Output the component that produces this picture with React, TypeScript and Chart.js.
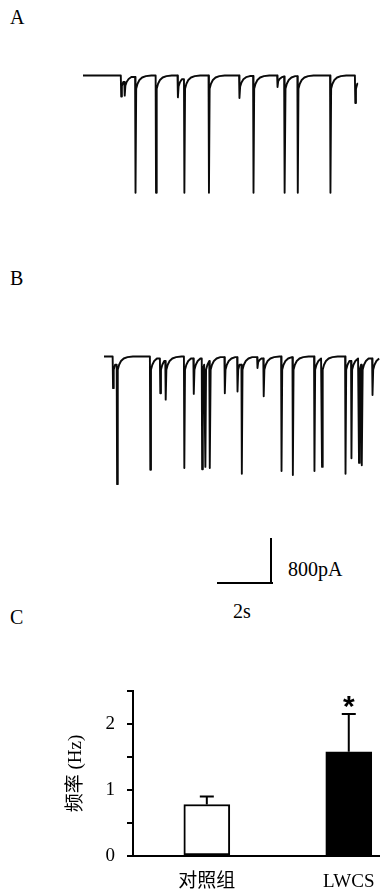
import React, { useEffect, useRef } from "react";
import { Chart, registerables } from "chart.js";

Chart.register(...registerables);

const SERIF = '"Liberation Serif", "Times New Roman", serif';
const SERIF_CJK = '"Liberation Serif", "Noto Sans CJK SC", serif';

// Scale bar calibration: 2 s and 800 pA
const SCALE_SECONDS = 2;
const SCALE_PA = 800;
const PX_PER_S = 27;
const PX_PER_PA = 46 / 800;

// Trace A: event onset times (s) and peak amplitudes (pA, inward)
const TRACE_A_TIMES = [1.4, 1.53, 1.93, 2.69, 3.5, 3.74, 4.65, 5.78, 6.3, 7.19, 7.46, 7.94, 9.15, 10.07];
const TRACE_A_AMPS = [365, 350, 2040, 2040, 380, 2040, 2040, 390, 2040, 200, 2040, 2040, 2040, 480];
const TRACE_A_END = 10.19;

// Trace B
const TRACE_B_TIMES = [0.32, 0.47, 1.7, 2.07, 2.27, 2.96, 3.31, 3.62, 3.74, 3.91, 4.46, 4.93, 5.09, 5.67, 5.9, 6.56, 6.98, 7.78, 8.06, 8.93, 9.15, 9.43, 9.54, 9.93];
const TRACE_B_AMPS = [550, 2220, 1970, 640, 750, 1940, 650, 1960, 1920, 1940, 640, 610, 2040, 200, 690, 1990, 2060, 1990, 1920, 2040, 1770, 1850, 1890, 670];
const TRACE_B_END = 10.22;

// Event waveform template
const PEAK_DT = 0.015;
const TAIL_PA = 230;
const DECAY_DT = [0.04, 0.09, 0.16, 0.26, 0.4, 0.6];
const DECAY_FRAC = [1, 0.62, 0.34, 0.15, 0.05, 0];

// Panel C: frequency (Hz)
const BAR_CATEGORIES = ["对照组", "LWCS"];
const BAR_MEANS = [0.78, 1.58];
const BAR_ERRORS = [0.12, 0.57];
const BAR_SIGNIF = [false, true];
const BAR_FILLS = ["#ffffff", "#000000"];
const Y_AXIS_TITLE = "频率 (Hz)";
const Y_MAX = 2.5;
const Y_STEP = 0.5;

function buildTrace(times: number[], amps: number[], end: number) {
  const pts: { x: number; y: number }[] = [{ x: 0, y: 0 }];
  let level = 0;
  for (let i = 0; i < times.length; i++) {
    const t = times[i];
    const next = i + 1 < times.length ? times[i + 1] : end;
    pts.push({ x: t, y: level });
    pts.push({ x: t + PEAK_DT, y: -amps[i] });
    const tail = Math.min(amps[i] * 0.5, TAIL_PA);
    for (let k = 0; k < DECAY_DT.length; k++) {
      if (t + DECAY_DT[k] < next) {
        level = -tail * DECAY_FRAC[k];
        pts.push({ x: t + DECAY_DT[k], y: level });
      }
    }
  }
  pts.push({ x: end, y: level });
  return pts;
}

type TraceProps = {
  times: number[];
  amps: number[];
  end: number;
  left: number;
  top: number;
  width: number;
  height: number;
  originX: number;
  baselineY: number;
};

function Trace(p: TraceProps) {
  const ref = useRef<HTMLCanvasElement | null>(null);
  useEffect(() => {
    if (!ref.current) return;
    const xmin = -p.originX / PX_PER_S;
    const xmax = xmin + p.width / PX_PER_S;
    const ymax = p.baselineY / PX_PER_PA;
    const ymin = ymax - p.height / PX_PER_PA;
    const chart = new Chart(ref.current, {
      type: "line",
      data: {
        datasets: [
          {
            data: buildTrace(p.times, p.amps, p.end),
            borderColor: "#0a0a0a",
            borderWidth: 1.9,
            pointRadius: 0,
            tension: 0,
            fill: false,
            borderJoinStyle: "round",
            clip: 4,
          } as any,
        ],
      },
      options: {
        animation: false,
        responsive: false,
        maintainAspectRatio: false,
        events: [],
        layout: { padding: 0 },
        plugins: { legend: { display: false }, tooltip: { enabled: false }, title: { display: false } },
        scales: {
          x: { type: "linear", display: false, min: xmin, max: xmax },
          y: { type: "linear", display: false, min: ymin, max: ymax },
        },
      },
    });
    return () => chart.destroy();
  }, []);
  return (
    <canvas
      ref={ref}
      width={p.width}
      height={p.height}
      style={{ position: "absolute", left: p.left, top: p.top, width: p.width, height: p.height }}
    />
  );
}

function BarPanel() {
  const ref = useRef<HTMLCanvasElement | null>(null);
  useEffect(() => {
    if (!ref.current) return;
    const errPlugin = {
      id: "errbars",
      afterDatasetsDraw(chart: any) {
        const ctx = chart.ctx;
        const xs = chart.scales.x;
        const ys = chart.scales.y;
        ctx.save();
        ctx.strokeStyle = "#000";
        ctx.fillStyle = "#000";
        ctx.lineWidth = 2;
        BAR_MEANS.forEach((m, i) => {
          const x = xs.getPixelForValue(i + 1);
          const yb = ys.getPixelForValue(m);
          const yt = ys.getPixelForValue(m + BAR_ERRORS[i]);
          ctx.beginPath();
          ctx.moveTo(x, yb);
          ctx.lineTo(x, yt);
          ctx.moveTo(x - 7, yt);
          ctx.lineTo(x + 7, yt);
          ctx.stroke();
          if (BAR_SIGNIF[i]) {
            ctx.font = 'bold 30px "Liberation Sans", Arial, sans-serif';
            ctx.textAlign = "center";
            ctx.textBaseline = "alphabetic";
            const mt = ctx.measureText("*");
            const asc = mt.actualBoundingBoxAscent;
            const desc = mt.actualBoundingBoxDescent;
            const cy = yt - 12;
            ctx.fillText("*", x, cy + (asc - desc) / 2);
          }
        });
        ctx.restore();
      },
    };
    const chart = new Chart(ref.current, {
      type: "bar",
      data: {
        datasets: [
          {
            data: BAR_MEANS.map((m, i) => ({ x: i + 1, y: m })),
            backgroundColor: BAR_FILLS,
            borderColor: "#000000",
            borderWidth: 2,
            barThickness: 46,
            borderSkipped: false,
          } as any,
        ],
      },
      options: {
        animation: false,
        responsive: false,
        maintainAspectRatio: false,
        events: [],
        layout: { padding: { top: 11, left: 0, right: 0, bottom: 0 } },
        plugins: { legend: { display: false }, tooltip: { enabled: false } },
        scales: {
          x: {
            type: "linear",
            min: 0.48,
            max: 2.22,
            offset: false,
            afterBuildTicks: (scale: any) => {
              scale.ticks = BAR_CATEGORIES.map((_, i) => ({ value: i + 1 }));
            },
            afterFit: (scale: any) => {
              scale.height = 39;
              scale.paddingLeft = 0;
              scale.paddingRight = 0;
              scale.paddingTop = 0;
              scale.paddingBottom = 0;
            },
            grid: { display: false, drawTicks: false },
            border: { display: true, color: "#000", width: 2 },
            ticks: {
              autoSkip: false,
              maxRotation: 0,
              padding: 15,
              color: "#000",
              font: { family: SERIF_CJK, size: 19 },
              callback: (v: any) => BAR_CATEGORIES[Math.round(Number(v)) - 1] ?? "",
            },
          },
          y: {
            type: "linear",
            min: 0,
            max: Y_MAX,
            afterFit: (scale: any) => {
              scale.width = 133;
              scale.paddingLeft = 0;
              scale.paddingRight = 0;
              scale.paddingTop = 0;
              scale.paddingBottom = 0;
            },
            grid: {
              display: true,
              drawOnChartArea: false,
              drawTicks: true,
              tickLength: 6,
              color: "#000",
              lineWidth: 2,
            },
            border: { display: true, color: "#000", width: 2 },
            ticks: {
              stepSize: Y_STEP,
              padding: 12,
              color: "#000",
              font: { family: SERIF, size: 19 },
              callback: (v: any) => (Number.isInteger(Number(v)) ? String(v) : ""),
            },
            title: {
              display: true,
              text: Y_AXIS_TITLE,
              color: "#000",
              font: { family: SERIF_CJK, size: 19 },
              padding: { top: 65, bottom: 0 },
            },
          },
        },
      },
      plugins: [errPlugin],
    });
    return () => chart.destroy();
  }, []);
  return (
    <canvas
      ref={ref}
      width={380}
      height={215}
      style={{ position: "absolute", left: 0, top: 680, width: 380, height: 215 }}
    />
  );
}

const labelStyle = (left: number, top: number): React.CSSProperties => ({
  position: "absolute",
  left,
  top,
  fontFamily: SERIF,
  fontSize: 20,
  lineHeight: "20px",
  color: "#000",
  whiteSpace: "nowrap",
});

export default function App() {
  return (
    <div style={{ position: "absolute", left: 0, top: 0, width: 380, height: 895, background: "#fff", overflow: "hidden" }}>
      <div style={labelStyle(10, 7)}>A</div>
      <div style={labelStyle(10, 268)}>B</div>
      <div style={labelStyle(10, 607)}>C</div>
      <Trace times={TRACE_A_TIMES} amps={TRACE_A_AMPS} end={TRACE_A_END} left={80} top={60} width={300} height={145} originX={3} baselineY={15.5} />
      <Trace times={TRACE_B_TIMES} amps={TRACE_B_AMPS} end={TRACE_B_END} left={100} top={340} width={280} height={150} originX={4} baselineY={16.5} />
      {/* scale bar */}
      <div style={{ position: "absolute", left: 217, top: 582, width: SCALE_SECONDS * PX_PER_S + 1.5, height: 1.5, background: "#000" }} />
      <div style={{ position: "absolute", left: 270, top: 583.5 - SCALE_PA * PX_PER_PA, width: 1.5, height: SCALE_PA * PX_PER_PA, background: "#000" }} />
      <div style={labelStyle(288, 559)}>800pA</div>
      <div style={labelStyle(233, 601)}>2s</div>
      <BarPanel />
    </div>
  );
}
